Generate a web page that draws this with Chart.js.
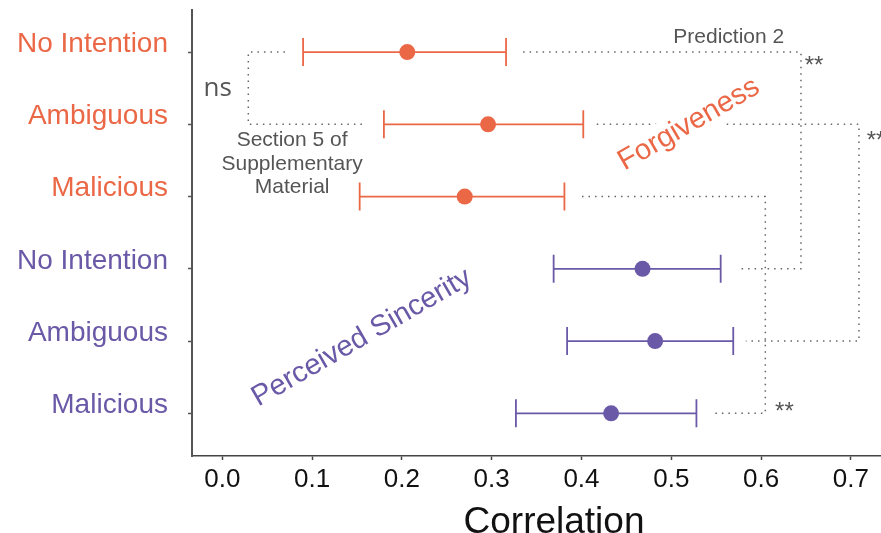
<!DOCTYPE html>
<html>
<head>
<meta charset="utf-8">
<script src="https://cdn.jsdelivr.net/npm/chart.js@4.4.0/dist/chart.umd.min.js"></script>
<style>
  html, body { margin: 0; padding: 0; background: #fff; overflow: hidden; }
  #wrap { width: 916px; height: 533px; }
</style>
</head>
<body>
<div id="wrap"><canvas id="plot" width="916" height="533"></canvas></div>
<script>
// rows top to bottom: forgiveness (0-2), perceived sincerity (3-5)
var categories = ['No Intention', 'Ambiguous', 'Malicious', 'No Intention', 'Ambiguous', 'Malicious'];
var group = [0, 0, 0, 1, 1, 1];
var estimates = [0.206, 0.296, 0.270, 0.468, 0.482, 0.433];
var lower = [0.090, 0.180, 0.153, 0.369, 0.384, 0.327];
var upper = [0.316, 0.402, 0.381, 0.555, 0.569, 0.528];
var xTicks = [0, 0.1, 0.2, 0.3, 0.4, 0.5, 0.6, 0.7];

var groupColors = ['#EB6847', '#6A59A7'];
var noteColor = '#555';

// dotted comparison brackets (x in correlation units, rows as above)
var brackets = [
  {fromRow: 0, fromX: 0.0698, turnX: 0.029, toRow: 1, toX: 0.158},
  {fromRow: 0, fromX: 0.335, turnX: 0.6444, toRow: 3, toX: 0.5776},
  {fromRow: 1, fromX: 0.417, turnX: 0.709, toRow: 4, toX: 0.583},
  {fromRow: 2, fromX: 0.4006, turnX: 0.6047, toRow: 5, toX: 0.5439}
];

var notes = [
  {text: 'ns', x: -0.005, row: 0.51, font: '26px "Open Sans"', base: 'middle'},
  {text: 'Prediction 2', x: 0.564, row: -0.2, font: '21px "Liberation Sans"', base: 'middle'},
  {text: '**', x: 0.659, row: 0.2, font: '24px "Liberation Sans"', base: 'middle'},
  {text: '**', x: 0.728, row: 1.23, font: '24px "Liberation Sans"', base: 'middle'},
  {text: '**', x: 0.626, row: 4.98, font: '24px "Liberation Sans"', base: 'middle'},
  {text: 'Section 5 of', x: 0.0778, row: 1.296, font: '21px "Liberation Sans"', base: 'alphabetic'},
  {text: 'Supplementary', x: 0.0778, row: 1.626, font: '21px "Liberation Sans"', base: 'alphabetic'},
  {text: 'Material', x: 0.0778, row: 1.95, font: '21px "Liberation Sans"', base: 'alphabetic'}
];

var bigLabels = [
  {text: 'Forgiveness', x: 0.5197, row: 1.0, color: groupColors[0], angle: -30, blank: true},
  {text: 'Perceived Sincerity', x: 0.1553, row: 3.955, color: groupColors[1], angle: -30, blank: false}
];

function noPadding(s) {
  s.paddingTop = 0; s.paddingBottom = 0; s.paddingLeft = 0; s.paddingRight = 0;
}

var overlay = {
  id: 'overlay',
  beforeDatasetsDraw: function(chart) {
    var ctx = chart.ctx, xs = chart.scales.x, ys = chart.scales.y;
    ctx.save();
    ctx.lineWidth = 1.8;
    for (var i = 0; i < estimates.length; i++) {
      var y = ys.getPixelForValue(i);
      var x0 = xs.getPixelForValue(lower[i]);
      var x1 = xs.getPixelForValue(upper[i]);
      ctx.strokeStyle = groupColors[group[i]];
      ctx.beginPath();
      ctx.moveTo(x0, y); ctx.lineTo(x1, y);
      ctx.moveTo(x0, y - 14); ctx.lineTo(x0, y + 14);
      ctx.moveTo(x1, y - 14); ctx.lineTo(x1, y + 14);
      ctx.stroke();
    }
    ctx.restore();
  },
  afterDraw: function(chart) {
    var ctx = chart.ctx, xs = chart.scales.x, ys = chart.scales.y;
    ctx.save();
    ctx.strokeStyle = '#666';
    ctx.lineWidth = 1.5;
    ctx.setLineDash([1.5, 5]);
    brackets.forEach(function(b) {
      ctx.beginPath();
      ctx.moveTo(xs.getPixelForValue(b.fromX), ys.getPixelForValue(b.fromRow));
      ctx.lineTo(xs.getPixelForValue(b.turnX), ys.getPixelForValue(b.fromRow));
      ctx.lineTo(xs.getPixelForValue(b.turnX), ys.getPixelForValue(b.toRow));
      ctx.lineTo(xs.getPixelForValue(b.toX), ys.getPixelForValue(b.toRow));
      ctx.stroke();
    });
    ctx.setLineDash([]);

    ctx.textAlign = 'center';
    ctx.fillStyle = noteColor;
    notes.forEach(function(n) {
      ctx.font = n.font;
      ctx.textBaseline = n.base;
      ctx.fillText(n.text, xs.getPixelForValue(n.x), ys.getPixelForValue(n.row));
    });

    ctx.font = '29px "Liberation Sans"';
    ctx.textBaseline = 'middle';
    bigLabels.forEach(function(l) {
      ctx.save();
      ctx.translate(xs.getPixelForValue(l.x), ys.getPixelForValue(l.row));
      ctx.rotate(l.angle * Math.PI / 180);
      var w = ctx.measureText(l.text).width;
      if (l.blank) {
        ctx.fillStyle = '#fff';
        ctx.fillRect(-w / 2 - 2, -17, w + 4, 34);
      }
      ctx.fillStyle = l.color;
      ctx.fillText(l.text, 0, 0);
      ctx.restore();
    });
    ctx.restore();
  }
};

var ctx = document.getElementById('plot').getContext('2d');
var myChart = new Chart(ctx, {
  type: 'scatter',
  data: {
    datasets: [{
      data: estimates.map(function(v, i) { return {x: v, y: i}; }),
      pointRadius: 8,
      pointHoverRadius: 8,
      pointBorderWidth: 0,
      pointBackgroundColor: group.map(function(g) { return groupColors[g]; })
    }]
  },
  options: {
    responsive: false,
    animation: false,
    layout: {autoPadding: false, padding: {top: 10, left: 0, right: 0, bottom: 0}},
    plugins: {legend: {display: false}, tooltip: {enabled: false}},
    scales: {
      x: {
        type: 'linear',
        min: -0.0337,
        max: 0.7725,
        afterBuildTicks: function(s) { s.ticks = xTicks.map(function(v) { return {value: v}; }); },
        afterFit: function(s) { s.height = 77; noPadding(s); },
        border: {color: '#444', width: 1.5},
        grid: {drawOnChartArea: false, tickLength: 4, tickColor: '#444', tickWidth: 1.5},
        ticks: {
          color: '#111',
          padding: 4,
          autoSkip: false,
          maxRotation: 0,
          font: {family: 'Liberation Sans', size: 26},
          callback: function(v) { return v.toFixed(1); }
        },
        title: {
          display: true,
          text: 'Correlation',
          color: '#111',
          font: {family: 'Liberation Sans', size: 37, lineHeight: 0.6},
          padding: {top: 0, bottom: -0.5}
        }
      },
      y: {
        type: 'linear',
        reverse: true,
        min: -0.582,
        max: 5.59,
        afterBuildTicks: function(s) { s.ticks = categories.map(function(c, i) { return {value: i}; }); },
        afterFit: function(s) { s.width = 192; noPadding(s); },
        border: {color: '#555', width: 2},
        grid: {drawOnChartArea: false, tickLength: 4, tickColor: '#555', tickWidth: 1.5},
        ticks: {
          padding: 20,
          autoSkip: false,
          font: {family: 'Liberation Sans', size: 28, lineHeight: 0.56},
          color: function(c) { return groupColors[group[c.index]]; },
          callback: function(v, i) { return [categories[i], '']; }
        }
      }
    }
  },
  plugins: [overlay]
});
</script>
</body>
</html>
